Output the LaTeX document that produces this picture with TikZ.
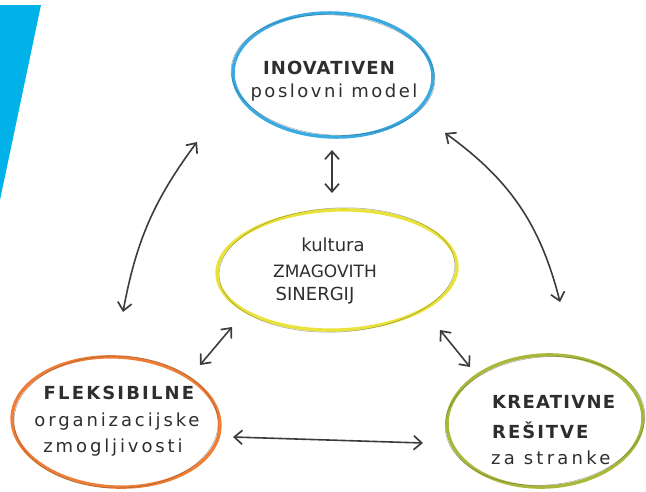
\documentclass[tikz,border=0pt]{standalone}
\usepackage{fontspec}
\setmainfont{DejaVu Sans}
\usetikzlibrary{shapes.geometric,arrows.meta}
\definecolor{cyanbar}{HTML}{00B2E8}
\definecolor{cblue}{HTML}{3AAAE2}
\definecolor{cyellow}{HTML}{E8E23A}
\definecolor{corange}{HTML}{EE7E36}
\definecolor{colive}{HTML}{A9B83A}
\definecolor{pencil}{HTML}{3C3C3C}
\definecolor{ink}{HTML}{2E2E2E}
\begin{document}
\begin{tikzpicture}[x=1pt,y=1pt,
  ell/.style={ellipse, draw=#1, line width=3.4pt, inner sep=0pt},
  sketch/.style={draw=pencil, line width=0.5pt, opacity=0.45},
  lbl/.style={text=ink, inner sep=0pt, font=\fontsize{18}{20}\selectfont\addfontfeature{LetterSpace=#1}},
  lbl/.default=0,
  lblb/.style={text=ink, inner sep=0pt, font=\fontsize{18}{20}\selectfont\bfseries\addfontfeature{LetterSpace=#1}},
  lblb/.default=0,
  arr/.style={draw=pencil, line width=1.6pt, line cap=round,
    {Straight Barb[length=8pt,width=14pt,line width=1.7pt]}-{Straight Barb[length=8pt,width=14pt,line width=1.7pt]}}
]
\useasboundingbox (0,0) rectangle (646,-491);
\fill[cyanbar] (0,-5) -- (41,-5) -- (0,-200) -- cycle;

% ellipses
\node[ell=cblue, minimum width=200pt, minimum height=124pt, rotate=-2] (inov) at (333,-75) {};
\node[ell=cyellow, minimum width=240pt, minimum height=120pt, rotate=2] (kult) at (337,-270) {};
\node[ell=corange, minimum width=208pt, minimum height=130pt, rotate=-3] (flek) at (116,-422) {};
\node[ell=colive, minimum width=196pt, minimum height=132pt, rotate=3] (krea) at (545,-421) {};
\draw[sketch] (inov.center) ellipse [x radius=102, y radius=60, rotate=-4];
\draw[sketch] (kult.center) ellipse [x radius=118, y radius=62, rotate=3];
\draw[sketch] (flek.center) ellipse [x radius=102, y radius=66, rotate=-1];
\draw[sketch] (krea.center) ellipse [x radius=100, y radius=64, rotate=5];

% texts
\node[lblb=6] (t1) at (329,-68) {INOVATIVEN};
\node[lbl=14] (t2) at (334,-93) {poslovni model};
\node[lbl] (t3) at (333,-245) {kultura};
\node[lbl, font=\fontsize{17}{20}\selectfont] (t4) at (325,-271) {ZMAGOVITH};
\node[lbl] (t5) at (315,-296) {SINERGIJ};
\node[lblb=12] (t6) at (119,-393) {FLEKSIBILNE};
\node[lbl=16] (t7) at (117,-422) {organizacijske};
\node[lbl=16] (t8) at (113,-448) {zmogljivosti};
\node[lblb=7, anchor=west] (t9) at (492,-402) {KREATIVNE};
\node[lblb=11, anchor=west] (t10) at (492,-430) {REŠITVE};
\node[lbl=18, anchor=west] (t11) at (491,-458) {za stranke};

% arrow end points
\coordinate (a1s) at (197,-142);
\coordinate (a1e) at (123,-312);
\coordinate (a2s) at (445,-133);
\coordinate (a2e) at (560,-302);
\coordinate (a3s) at (233,-437);
\coordinate (a3e) at (423,-443);
\coordinate (a4s) at (332,-150);
\coordinate (a4e) at (332,-193);
\coordinate (a5s) at (232,-327);
\coordinate (a5e) at (200,-365);
\coordinate (a6s) at (440,-330);
\coordinate (a6e) at (470,-367);

\draw[arr] (a1s) to[bend right=13] (a1e);
\draw[arr] (a2s) to[bend left=20] (a2e);
\draw[arr] (a3s) -- (a3e);
\draw[arr] (a4s) -- (a4e);
\draw[arr] (a5s) -- (a5e);
\draw[arr] (a6s) -- (a6e);
\end{tikzpicture}
\end{document}
